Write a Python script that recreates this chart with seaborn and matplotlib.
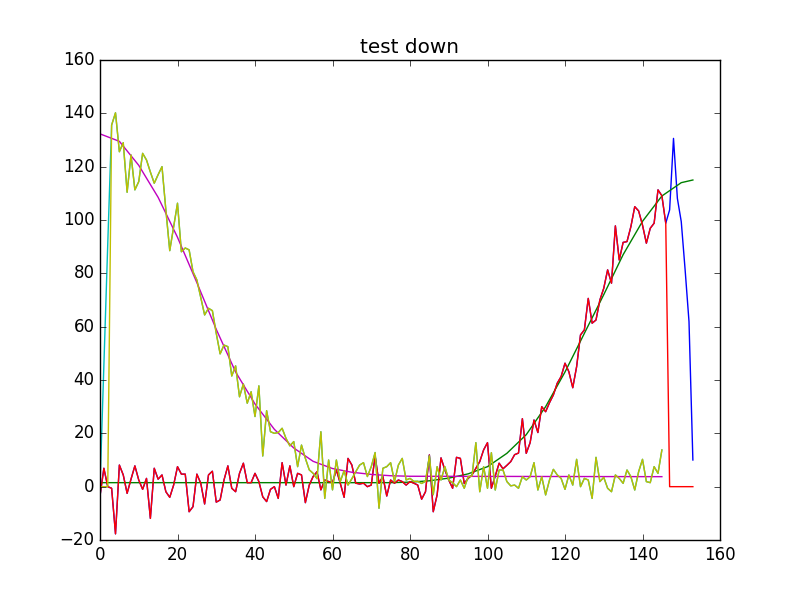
import numpy as np
import matplotlib
matplotlib.use("Agg")
import matplotlib.pyplot as plt
import seaborn as sns

# rising series (blue = raw, red = cut at the end)
up_raw = [-3.5, 6.9, 0, -0.6, -17.7, 8.1, 4.4, -2.5, 2.8, 7.8,
          2.5, -1, 3.1, -11.9, 6.9, 2.8, 4.4, -1.9, -4, 0.6,
          7.5, 4.7, 4.7, -9.4, -7.5, 4.7, 1.3, -6.5, 4.4, 5.8,
          -5.8, -5, 2.5, 7.8, -0.6, -1.9, 5, 8.8, 1.5, 1.5,
          5, 1.9, -3.8, -5.6, -1, 0, -4.4, 9, 0.6, 7.8,
          0, 5, 4.4, -6, 0.6, 3.8, 5.6, -1.2, 2.5, 1.9,
          1.5, 6.3, 1.3, -4, 10.6, 8.1, 1.3, 1, 1.3, 0,
          0.6, 11.5, 1.3, 3.8, -3.5, 2.5, 1.3, 2.5, 1.9, 0.6,
          1.9, 1.3, 0.6, -4.7, -1.9, 11.9, -9.4, -3.1, 10.8, 6.3,
          2.5, -0.6, 11, 10.6, 1.2, 3.1, 4.4, 6.9, 9.4, 13.8,
          16.5, -0.6, 4, 8.8, 6.7, 8, 9.4, 12, 12.6, 25.5,
          12.5, 16.5, 25, 20.3, 30, 28.1, 31.5, 34.4, 38.8, 41.3,
          46.3, 43.1, 37.1, 45, 56.9, 58.8, 70.6, 61.3, 62.5, 70,
          74.4, 81.3, 76.3, 97.8, 85, 91.6, 91.9, 97.5, 105, 103.4,
          98.1, 91.3, 96.9, 98.8, 111.3, 109.1, 98.8,
          103.8, 130.6, 108.1, 99.4, 81.3, 61.9, 10]
up_cut = up_raw[:147] + [0, 0, 0, 0, 0, 0, 0]

# rising fit (green)
up_fit_x = [0, 75, 80, 85, 90, 95, 100, 105, 110, 115, 120, 125, 130,
            135, 140, 145, 150, 153]
up_fit = [1.5, 1.5, 1.7, 2.2, 3.2, 4.8, 7.5, 12.5, 19.5, 30, 43, 57.5,
          72, 87, 99.5, 109, 114, 115]

# falling series (cyan = raw, yellow = first points zeroed)
down_raw = [0, 46, 91, 135.6, 140.2, 125.6, 129, 110.4, 124.4, 111.3,
            114.4, 125, 122.5, 118, 113.8, 117, 120, 103.7, 88.5, 97.5,
            106.3, 88.1, 89.5, 88.8, 80.6, 77.5, 71, 64.4, 66.9, 66,
            57.5, 49.8, 53.1, 52.5, 41.5, 45.3, 33.7, 38.5, 31.3, 35.6,
            26.3, 37.8, 11.5, 28.5, 20.6, 20, 20.3, 21.9, 18.1, 15.3,
            16.9, 7.5, 15.6, 10.6, 6.3, 5, 3, 20.6, -4.4, 10,
            -1.2, 10, 1.9, 6, 0.6, 3, 5.6, 8.1, 9, 3.8,
            7.5, 12.8, -8.1, 6.9, 7.5, 9, 1.9, 8.1, 10.6, 2.5,
            3.1, 2, 2, 1.2, 2, 11.5, -3, 7.5, 2.5, 7.5,
            2.5, 1.5, 0, 2.5, -0.6, 3.75, 4, 16.5, -1.9, 7.5,
            -0.6, 12.75, -1.25, 6.25, 6.25, 1.9, 0.3, 0.6, -0.6, 3.75,
            2.5, 3.75, 9, -1.25, 3.75, -3.1, 2.5, 6.5, 4.4, 3.1,
            -1, 4.4, 0.6, 10.25, 0, 3.1, 2.5, -4.4, 11, 1.9,
            3.5, -0.6, -1.9, 4.4, 3.1, 1.25, 6.25, 3.75, -1.25, 5.6,
            10.25, 1.9, 1.5, 7.5, 5, 13.75]
down_cut = [0, 0, 0] + down_raw[3:]

# falling fit (magenta)
down_fit_x = [0, 5, 10, 15, 20, 25, 30, 35, 40, 45, 50, 55, 60, 65, 70,
              75, 80, 145]
down_fit = [132.3, 129.5, 120.5, 108.5, 93.5, 76.5, 59, 43, 31, 21.5,
            14.5, 9.5, 6.8, 5.4, 4.6, 4.1, 3.9, 3.75]

plt.style.use("classic")
fig, ax = plt.subplots(figsize=(8, 6), dpi=100)

t_up = np.arange(len(up_raw))
t_down = np.arange(len(down_raw))

sns.lineplot(x=t_up, y=up_raw, color="b", lw=1, ax=ax)
sns.lineplot(x=up_fit_x, y=up_fit, color="g", lw=1, ax=ax)
sns.lineplot(x=t_up, y=up_cut, color="r", lw=1, ax=ax)
sns.lineplot(x=t_down, y=down_raw, color="c", lw=1, ax=ax)
sns.lineplot(x=down_fit_x, y=down_fit, color="m", lw=1, ax=ax)
sns.lineplot(x=t_down, y=down_cut, color="y", lw=1, ax=ax)

ax.set_xlim(0, 160)
ax.set_ylim(-20, 160)
ax.set_title("test down")

fig.savefig("out.png", dpi=100)
